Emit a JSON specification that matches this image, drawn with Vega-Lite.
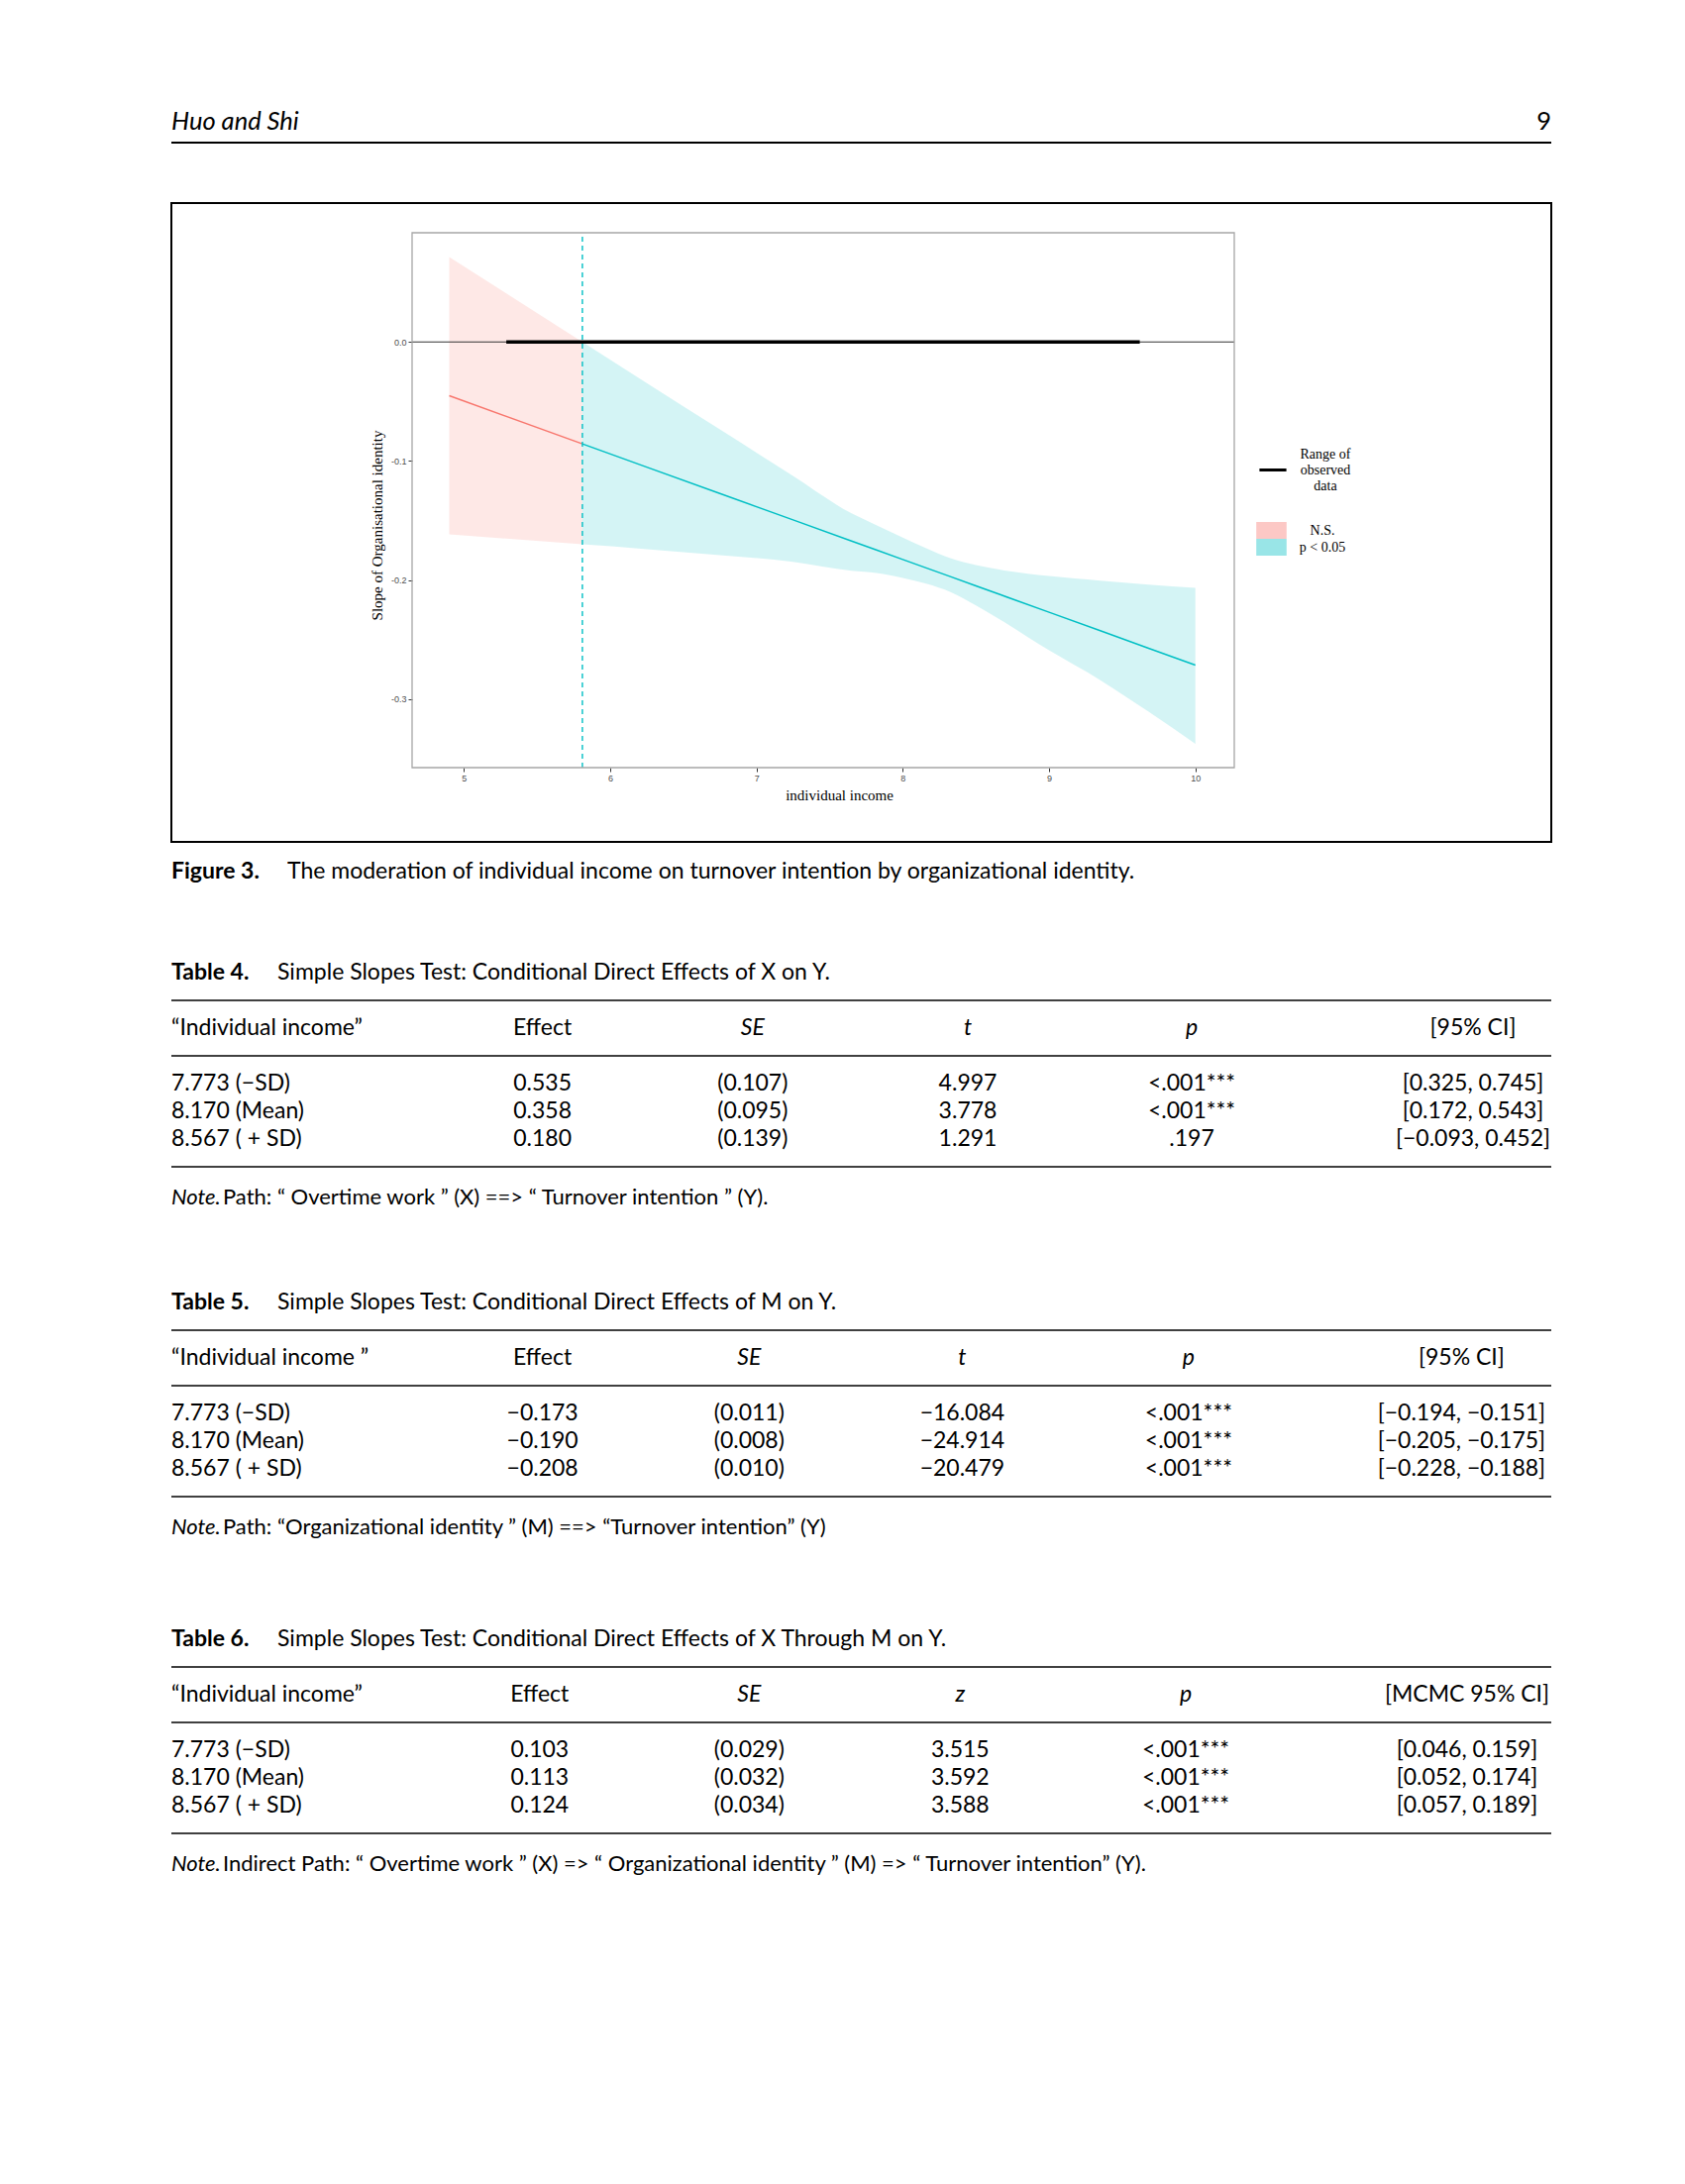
{
"$schema": "https://vega.github.io/schema/vega-lite/v6.json",
"background": "white",
"padding": 0,
"spacing": 0,
"resolve": {"scale": {"fill": "independent", "stroke": "independent"}, "legend": {"fill": "independent", "stroke": "independent"}},
"config": {"view": {"stroke": null}, "font": "Lato", "text": {"font": "Lato", "color": "black"}},
"datasets": {
 "ribbon": [
  {"x": 4.9, "lo": -0.1615, "hi": 0.0714, "fit": -0.0452, "sig": "N.S."},
  {"x": 5.81, "lo": -0.17, "hi": 0.0, "fit": -0.0856, "sig": "N.S."},
  {"x": 5.81, "lo": -0.17, "hi": 0.0, "fit": -0.0856, "sig": "p < 0.05"},
  {"x": 6.25, "lo": -0.174, "hi": -0.0345, "fit": -0.1051, "sig": "p < 0.05"},
  {"x": 6.75, "lo": -0.179, "hi": -0.0735, "fit": -0.1273, "sig": "p < 0.05"},
  {"x": 7.25, "lo": -0.1846, "hi": -0.1125, "fit": -0.1494, "sig": "p < 0.05"},
  {"x": 7.65, "lo": -0.1921, "hi": -0.144, "fit": -0.1672, "sig": "p < 0.05"},
  {"x": 7.82, "lo": -0.194, "hi": -0.1538, "fit": -0.1747, "sig": "p < 0.05"},
  {"x": 8.0, "lo": -0.1982, "hi": -0.1642, "fit": -0.1827, "sig": "p < 0.05"},
  {"x": 8.16, "lo": -0.203, "hi": -0.1733, "fit": -0.1898, "sig": "p < 0.05"},
  {"x": 8.33, "lo": -0.2102, "hi": -0.1818, "fit": -0.1973, "sig": "p < 0.05"},
  {"x": 8.5, "lo": -0.2212, "hi": -0.1874, "fit": -0.2049, "sig": "p < 0.05"},
  {"x": 8.67, "lo": -0.2335, "hi": -0.1914, "fit": -0.2124, "sig": "p < 0.05"},
  {"x": 9.0, "lo": -0.259, "hi": -0.1966, "fit": -0.227, "sig": "p < 0.05"},
  {"x": 9.35, "lo": -0.284, "hi": -0.2004, "fit": -0.2425, "sig": "p < 0.05"},
  {"x": 9.68, "lo": -0.3106, "hi": -0.2038, "fit": -0.2572, "sig": "p < 0.05"},
  {"x": 10.0, "lo": -0.3375, "hi": -0.2065, "fit": -0.2714, "sig": "p < 0.05"}
 ],
 "t4": [
  {"line": 2, "col": 0, "text": "“Individual income”"},
  {"line": 2, "col": 1, "text": "Effect"},
  {"line": 2, "col": 2, "text": "SE"},
  {"line": 2, "col": 3, "text": "t"},
  {"line": 2, "col": 4, "text": "p"},
  {"line": 2, "col": 5, "text": "[95% CI]"},
  {"line": 4, "col": 0, "text": "7.773 (−SD)"},
  {"line": 4, "col": 1, "text": "0.535"},
  {"line": 4, "col": 2, "text": "(0.107)"},
  {"line": 4, "col": 3, "text": "4.997"},
  {"line": 4, "col": 4, "text": "<.001***"},
  {"line": 4, "col": 5, "text": "[0.325, 0.745]"},
  {"line": 5, "col": 0, "text": "8.170 (Mean)"},
  {"line": 5, "col": 1, "text": "0.358"},
  {"line": 5, "col": 2, "text": "(0.095)"},
  {"line": 5, "col": 3, "text": "3.778"},
  {"line": 5, "col": 4, "text": "<.001***"},
  {"line": 5, "col": 5, "text": "[0.172, 0.543]"},
  {"line": 6, "col": 0, "text": "8.567 ( + SD)"},
  {"line": 6, "col": 1, "text": "0.180"},
  {"line": 6, "col": 2, "text": "(0.139)"},
  {"line": 6, "col": 3, "text": "1.291"},
  {"line": 6, "col": 4, "text": ".197"},
  {"line": 6, "col": 5, "text": "[−0.093, 0.452]"}
 ],
 "t5": [
  {"line": 2, "col": 0, "text": "“Individual income ”"},
  {"line": 2, "col": 1, "text": "Effect"},
  {"line": 2, "col": 2, "text": "SE"},
  {"line": 2, "col": 3, "text": "t"},
  {"line": 2, "col": 4, "text": "p"},
  {"line": 2, "col": 5, "text": "[95% CI]"},
  {"line": 4, "col": 0, "text": "7.773 (−SD)"},
  {"line": 4, "col": 1, "text": "−0.173"},
  {"line": 4, "col": 2, "text": "(0.011)"},
  {"line": 4, "col": 3, "text": "−16.084"},
  {"line": 4, "col": 4, "text": "<.001***"},
  {"line": 4, "col": 5, "text": "[−0.194, −0.151]"},
  {"line": 5, "col": 0, "text": "8.170 (Mean)"},
  {"line": 5, "col": 1, "text": "−0.190"},
  {"line": 5, "col": 2, "text": "(0.008)"},
  {"line": 5, "col": 3, "text": "−24.914"},
  {"line": 5, "col": 4, "text": "<.001***"},
  {"line": 5, "col": 5, "text": "[−0.205, −0.175]"},
  {"line": 6, "col": 0, "text": "8.567 ( + SD)"},
  {"line": 6, "col": 1, "text": "−0.208"},
  {"line": 6, "col": 2, "text": "(0.010)"},
  {"line": 6, "col": 3, "text": "−20.479"},
  {"line": 6, "col": 4, "text": "<.001***"},
  {"line": 6, "col": 5, "text": "[−0.228, −0.188]"}
 ],
 "t6": [
  {"line": 2, "col": 0, "text": "“Individual income”"},
  {"line": 2, "col": 1, "text": "Effect"},
  {"line": 2, "col": 2, "text": "SE"},
  {"line": 2, "col": 3, "text": "z"},
  {"line": 2, "col": 4, "text": "p"},
  {"line": 2, "col": 5, "text": "[MCMC 95% CI]"},
  {"line": 4, "col": 0, "text": "7.773 (−SD)"},
  {"line": 4, "col": 1, "text": "0.103"},
  {"line": 4, "col": 2, "text": "(0.029)"},
  {"line": 4, "col": 3, "text": "3.515"},
  {"line": 4, "col": 4, "text": "<.001***"},
  {"line": 4, "col": 5, "text": "[0.046, 0.159]"},
  {"line": 5, "col": 0, "text": "8.170 (Mean)"},
  {"line": 5, "col": 1, "text": "0.113"},
  {"line": 5, "col": 2, "text": "(0.032)"},
  {"line": 5, "col": 3, "text": "3.592"},
  {"line": 5, "col": 4, "text": "<.001***"},
  {"line": 5, "col": 5, "text": "[0.052, 0.174]"},
  {"line": 6, "col": 0, "text": "8.567 ( + SD)"},
  {"line": 6, "col": 1, "text": "0.124"},
  {"line": 6, "col": 2, "text": "(0.034)"},
  {"line": 6, "col": 3, "text": "3.588"},
  {"line": 6, "col": 4, "text": "<.001***"},
  {"line": 6, "col": 5, "text": "[0.057, 0.189]"}
 ],
 "tablerules": [{"line": 1, "from": 0, "to": 6}, {"line": 3, "from": 0, "to": 6}, {"line": 7, "from": 0, "to": 6}]
},
"vconcat": [
 {
  "width": 1701, "height": 204,
  "layer": [
   {
    "data": {"values": [{"text": "Huo and Shi", "side": "left", "part": "running head"}]},
    "mark": {"type": "text", "align": "left", "baseline": "middle", "fontStyle": "italic", "fontSize": 25.5, "dy": 1},
    "encoding": {
     "x": {"field": "side", "type": "nominal", "scale": {"type": "point", "domain": ["left", "right"], "range": [173, 1566], "padding": 0}, "axis": null},
     "y": {"field": "part", "type": "nominal", "scale": {"type": "point", "domain": ["running head", "rule"], "range": [122, 144], "padding": 0}, "axis": null},
     "text": {"field": "text"}
    }
   },
   {
    "data": {"values": [{"text": "9", "side": "right", "part": "running head"}]},
    "mark": {"type": "text", "align": "right", "baseline": "middle", "fontSize": 25.5, "dy": 1},
    "encoding": {
     "x": {"field": "side", "type": "nominal"},
     "y": {"field": "part", "type": "nominal"},
     "text": {"field": "text"}
    }
   },
   {
    "data": {"values": [{"part": "rule", "from": "left", "to": "right"}]},
    "mark": {"type": "rule", "color": "black", "strokeWidth": 2},
    "encoding": {
     "x": {"field": "from", "type": "nominal"},
     "x2": {"field": "to"},
     "y": {"field": "part", "type": "nominal"}
    }
   }
  ]
 },
 {
  "spacing": 0,
  "resolve": {"scale": {"fill": "independent", "stroke": "independent"}, "legend": {"fill": "independent", "stroke": "independent"}},
  "hconcat": [
   {"width": 172, "height": 645, "data": {"values": []}, "mark": "text"},
   {
    "width": 1393, "height": 645,
    "view": {"stroke": "black", "strokeWidth": 2},
    "resolve": {"scale": {"stroke": "independent"}, "legend": {"stroke": "independent"}},
    "layer": [
     {
      "data": {"name": "ribbon"},
      "mark": {"type": "area", "fillOpacity": 0.17, "interpolate": "monotone"},
      "encoding": {
       "x": {"field": "x", "type": "quantitative", "title": "individual income",
        "scale": {"domain": [4.646, 10.266], "range": [243, 1073], "nice": false, "zero": false},
        "axis": {"values": [5, 6, 7, 8, 9, 10], "offset": -75, "domain": false, "grid": false, "format": "d",
         "tickColor": "#333333", "tickSize": 4, "tickWidth": 1, "labelFont": "Liberation Sans", "labelFontSize": 9, "labelColor": "#4D4D4D", "labelPadding": 2,
         "titleFont": "Liberation Serif", "titleFontSize": 15, "titleFontWeight": "normal", "titleColor": "black", "titleX": 674, "titleY": 27, "titleBaseline": "middle", "titleAlign": "center"}},
       "y": {"field": "lo", "type": "quantitative", "title": "Slope of Organisational identity",
        "scale": {"domain": [-0.3575, 0.0917], "range": [570, 30], "nice": false, "zero": false},
        "axis": {"values": [0, -0.1, -0.2, -0.3], "offset": -243, "domain": false, "grid": false,
         "labelExpr": "replace(format(datum.value, '.1f'), '−', '-')",
         "tickColor": "#333333", "tickSize": 4, "tickWidth": 1, "labelFont": "Liberation Sans", "labelFontSize": 9, "labelColor": "#4D4D4D", "labelPadding": 2,
         "titleFont": "Liberation Serif", "titleFontSize": 15, "titleFontWeight": "normal", "titleColor": "black", "titleX": -36, "titleY": 325, "titleAngle": -90, "titleBaseline": "middle", "titleAlign": "center"}},
       "y2": {"field": "hi"},
       "fill": {"field": "sig", "type": "nominal",
        "scale": {"domain": ["N.S.", "p < 0.05"], "range": ["#F8766D", "#00BFC4"]},
        "legend": {"orient": "none", "legendX": 1102, "legendY": 322, "title": null, "padding": 0,
         "symbolType": "M-1.8,-1H1.8V1H-1.8Z", "symbolSize": 289, "symbolOpacity": 0.4, "symbolStrokeWidth": 0,
         "labelFont": "Liberation Serif", "labelFontSize": 14, "labelColor": "black", "labelAlign": "center", "labelOffset": 43, "rowPadding": 0}}
      }
     },
     {
      "data": {"name": "ribbon"},
      "mark": {"type": "line", "strokeWidth": 1.5},
      "encoding": {
       "x": {"field": "x", "type": "quantitative", "title": "individual income"},
       "y": {"field": "fit", "type": "quantitative", "title": "Slope of Organisational identity"},
       "stroke": {"field": "sig", "type": "nominal", "scale": {"domain": ["N.S.", "p < 0.05"], "range": ["#F8766D", "#00BFC4"]}, "legend": null}
      }
     },
     {
      "data": {"values": [{}]},
      "mark": {"type": "rule", "color": "#333333", "strokeWidth": 1},
      "encoding": {
       "x": {"datum": 4.646, "type": "quantitative"},
       "x2": {"datum": 10.266},
       "y": {"datum": 0, "type": "quantitative"}
      }
     },
     {
      "data": {"values": [{"from": 5.29, "to": 9.62, "label": "Range of observed data"}]},
      "mark": {"type": "rule", "strokeWidth": 3.5},
      "encoding": {
       "x": {"field": "from", "type": "quantitative"},
       "x2": {"field": "to"},
       "y": {"datum": 0, "type": "quantitative"},
       "stroke": {"field": "label", "type": "nominal", "scale": {"range": ["black"]},
        "legend": {"orient": "none", "legendX": 1102, "legendY": 243.5, "title": null, "padding": 0,
         "symbolType": "M-1.6,1.88H1.6", "symbolSize": 289, "symbolStrokeWidth": 3,
         "labelExpr": "['Range of', 'observed', 'data']",
         "labelFont": "Liberation Serif", "labelFontSize": 14, "labelColor": "black", "labelAlign": "center", "labelOffset": 43}}
      }
     },
     {
      "data": {"values": [{"jn": 5.81}]},
      "mark": {"type": "rule", "color": "#00BFC4", "strokeWidth": 1.4, "strokeDash": [5, 4]},
      "encoding": {
       "x": {"field": "jn", "type": "quantitative"},
       "y": {"datum": -0.3575, "type": "quantitative"},
       "y2": {"datum": 0.0917}
      }
     },
     {
      "data": {"values": [{}]},
      "mark": {"type": "rect", "fillOpacity": 0, "stroke": "#A6A6A6", "strokeWidth": 1.3},
      "encoding": {
       "x": {"datum": 4.646, "type": "quantitative"},
       "x2": {"datum": 10.266},
       "y": {"datum": -0.3575, "type": "quantitative"},
       "y2": {"datum": 0.0917}
      }
     }
    ]
   }
  ]
 },
 {
  "width": 1701, "height": 52,
  "data": {"values": [{"label": "Figure 3.", "text": "The moderation of individual income on turnover intention by organizational identity.", "col": 0}]},
  "encoding": {
   "x": {"field": "col", "type": "quantitative", "scale": {"domain": [0, 6], "range": [173, 1566], "nice": false, "zero": false}, "axis": null}
  },
  "layer": [
   {"mark": {"type": "text", "align": "left", "baseline": "middle", "fontSize": 23, "fontWeight": "bold", "dy": 3}, "encoding": {"text": {"field": "label"}}},
   {"mark": {"type": "text", "align": "left", "baseline": "middle", "fontSize": 23, "dx": 117, "dy": 3}, "encoding": {"text": {"field": "text"}}}
  ]
 },
 {
  "width": 1701, "height": 368,
  "encoding": {
   "x": {"field": "col", "type": "quantitative", "scale": {"domain": [0, 1, 2, 3, 4, 5, 6], "range": [173, 547.6, 759.8, 977, 1203, 1487, 1566], "nice": false, "zero": false}, "axis": null},
   "y": {"field": "line", "type": "quantitative", "scale": {"domain": [-2.82, 10.323], "reverse": true, "nice": false, "zero": false}, "axis": null}
  },
  "layer": [
   {"data": {"values": [{"line": 0, "col": 0, "label": "Table 4.", "text": "Simple Slopes Test: Conditional Direct Effects of X on Y."}]},
    "layer": [
     {"mark": {"type": "text", "align": "left", "baseline": "middle", "fontSize": 23, "fontWeight": "bold"}, "encoding": {"text": {"field": "label"}}},
     {"mark": {"type": "text", "align": "left", "baseline": "middle", "fontSize": 23, "dx": 107}, "encoding": {"text": {"field": "text"}}}
    ]},
   {"data": {"name": "tablerules"}, "mark": {"type": "rule", "color": "black", "strokeWidth": 1.6, "dy": -2},
    "encoding": {"x": {"field": "from", "type": "quantitative"}, "x2": {"field": "to"}}},
   {"data": {"name": "t4"}, "transform": [{"filter": "datum.col == 0"}],
    "mark": {"type": "text", "align": "left", "baseline": "middle", "fontSize": 23}, "encoding": {"text": {"field": "text"}}},
   {"data": {"name": "t4"}, "transform": [{"filter": "datum.col > 0 && !(datum.line == 2 && datum.col >= 2 && datum.col <= 4)"}],
    "mark": {"type": "text", "align": "center", "baseline": "middle", "fontSize": 23}, "encoding": {"text": {"field": "text"}}},
   {"data": {"name": "t4"}, "transform": [{"filter": "datum.line == 2 && datum.col >= 2 && datum.col <= 4"}],
    "mark": {"type": "text", "align": "center", "baseline": "middle", "fontSize": 23, "fontStyle": "italic"}, "encoding": {"text": {"field": "text"}}},
   {"data": {"values": [{"line": 8, "col": 0, "label": "Note.", "text": "Path: “ Overtime work ” (X) ==> “ Turnover intention ” (Y)."}]},
    "layer": [
     {"mark": {"type": "text", "align": "left", "baseline": "middle", "fontSize": 22, "fontStyle": "italic", "dy": 3}, "encoding": {"text": {"field": "label"}}},
     {"mark": {"type": "text", "align": "left", "baseline": "middle", "fontSize": 22, "dx": 52, "dy": 3}, "encoding": {"text": {"field": "text"}}}
    ]}
  ]
 },
 {
  "width": 1701, "height": 340,
  "encoding": {
   "x": {"field": "col", "type": "quantitative", "scale": {"domain": [0, 1, 2, 3, 4, 5, 6], "range": [173, 547.6, 756.3, 971.4, 1199.9, 1475.4, 1566], "nice": false, "zero": false}, "axis": null},
   "y": {"field": "line", "type": "quantitative", "scale": {"domain": [-1.57, 10.573], "reverse": true, "nice": false, "zero": false}, "axis": null}
  },
  "layer": [
   {"data": {"values": [{"line": 0, "col": 0, "label": "Table 5.", "text": "Simple Slopes Test: Conditional Direct Effects of M on Y."}]},
    "layer": [
     {"mark": {"type": "text", "align": "left", "baseline": "middle", "fontSize": 23, "fontWeight": "bold"}, "encoding": {"text": {"field": "label"}}},
     {"mark": {"type": "text", "align": "left", "baseline": "middle", "fontSize": 23, "dx": 107}, "encoding": {"text": {"field": "text"}}}
    ]},
   {"data": {"name": "tablerules"}, "mark": {"type": "rule", "color": "black", "strokeWidth": 1.6, "dy": -2},
    "encoding": {"x": {"field": "from", "type": "quantitative"}, "x2": {"field": "to"}}},
   {"data": {"name": "t5"}, "transform": [{"filter": "datum.col == 0"}],
    "mark": {"type": "text", "align": "left", "baseline": "middle", "fontSize": 23}, "encoding": {"text": {"field": "text"}}},
   {"data": {"name": "t5"}, "transform": [{"filter": "datum.col > 0 && !(datum.line == 2 && datum.col >= 2 && datum.col <= 4)"}],
    "mark": {"type": "text", "align": "center", "baseline": "middle", "fontSize": 23}, "encoding": {"text": {"field": "text"}}},
   {"data": {"name": "t5"}, "transform": [{"filter": "datum.line == 2 && datum.col >= 2 && datum.col <= 4"}],
    "mark": {"type": "text", "align": "center", "baseline": "middle", "fontSize": 23, "fontStyle": "italic"}, "encoding": {"text": {"field": "text"}}},
   {"data": {"values": [{"line": 8, "col": 0, "label": "Note.", "text": "Path: “Organizational identity ” (M) ==> “Turnover intention” (Y)"}]},
    "layer": [
     {"mark": {"type": "text", "align": "left", "baseline": "middle", "fontSize": 22, "fontStyle": "italic", "dy": 3}, "encoding": {"text": {"field": "label"}}},
     {"mark": {"type": "text", "align": "left", "baseline": "middle", "fontSize": 22, "dx": 52, "dy": 3}, "encoding": {"text": {"field": "text"}}}
    ]}
  ]
 },
 {
  "width": 1701, "height": 594,
  "encoding": {
   "x": {"field": "col", "type": "quantitative", "scale": {"domain": [0, 1, 2, 3, 4, 5, 6], "range": [173, 544.8, 756.3, 969.3, 1197, 1481, 1566], "nice": false, "zero": false}, "axis": null},
   "y": {"field": "line", "type": "quantitative", "scale": {"domain": [-1.57, 19.644], "reverse": true, "nice": false, "zero": false}, "axis": null}
  },
  "layer": [
   {"data": {"values": [{"line": 0, "col": 0, "label": "Table 6.", "text": "Simple Slopes Test: Conditional Direct Effects of X Through M on Y."}]},
    "layer": [
     {"mark": {"type": "text", "align": "left", "baseline": "middle", "fontSize": 23, "fontWeight": "bold"}, "encoding": {"text": {"field": "label"}}},
     {"mark": {"type": "text", "align": "left", "baseline": "middle", "fontSize": 23, "dx": 107}, "encoding": {"text": {"field": "text"}}}
    ]},
   {"data": {"name": "tablerules"}, "mark": {"type": "rule", "color": "black", "strokeWidth": 1.6, "dy": -2},
    "encoding": {"x": {"field": "from", "type": "quantitative"}, "x2": {"field": "to"}}},
   {"data": {"name": "t6"}, "transform": [{"filter": "datum.col == 0"}],
    "mark": {"type": "text", "align": "left", "baseline": "middle", "fontSize": 23}, "encoding": {"text": {"field": "text"}}},
   {"data": {"name": "t6"}, "transform": [{"filter": "datum.col > 0 && !(datum.line == 2 && datum.col >= 2 && datum.col <= 4)"}],
    "mark": {"type": "text", "align": "center", "baseline": "middle", "fontSize": 23}, "encoding": {"text": {"field": "text"}}},
   {"data": {"name": "t6"}, "transform": [{"filter": "datum.line == 2 && datum.col >= 2 && datum.col <= 4"}],
    "mark": {"type": "text", "align": "center", "baseline": "middle", "fontSize": 23, "fontStyle": "italic"}, "encoding": {"text": {"field": "text"}}},
   {"data": {"values": [{"line": 8, "col": 0, "label": "Note.", "text": "Indirect Path: “ Overtime work ” (X) => “ Organizational identity ” (M) => “ Turnover intention” (Y)."}]},
    "layer": [
     {"mark": {"type": "text", "align": "left", "baseline": "middle", "fontSize": 22, "fontStyle": "italic", "dy": 3}, "encoding": {"text": {"field": "label"}}},
     {"mark": {"type": "text", "align": "left", "baseline": "middle", "fontSize": 22, "dx": 52, "dy": 3}, "encoding": {"text": {"field": "text"}}}
    ]}
  ]
 }
]
}
